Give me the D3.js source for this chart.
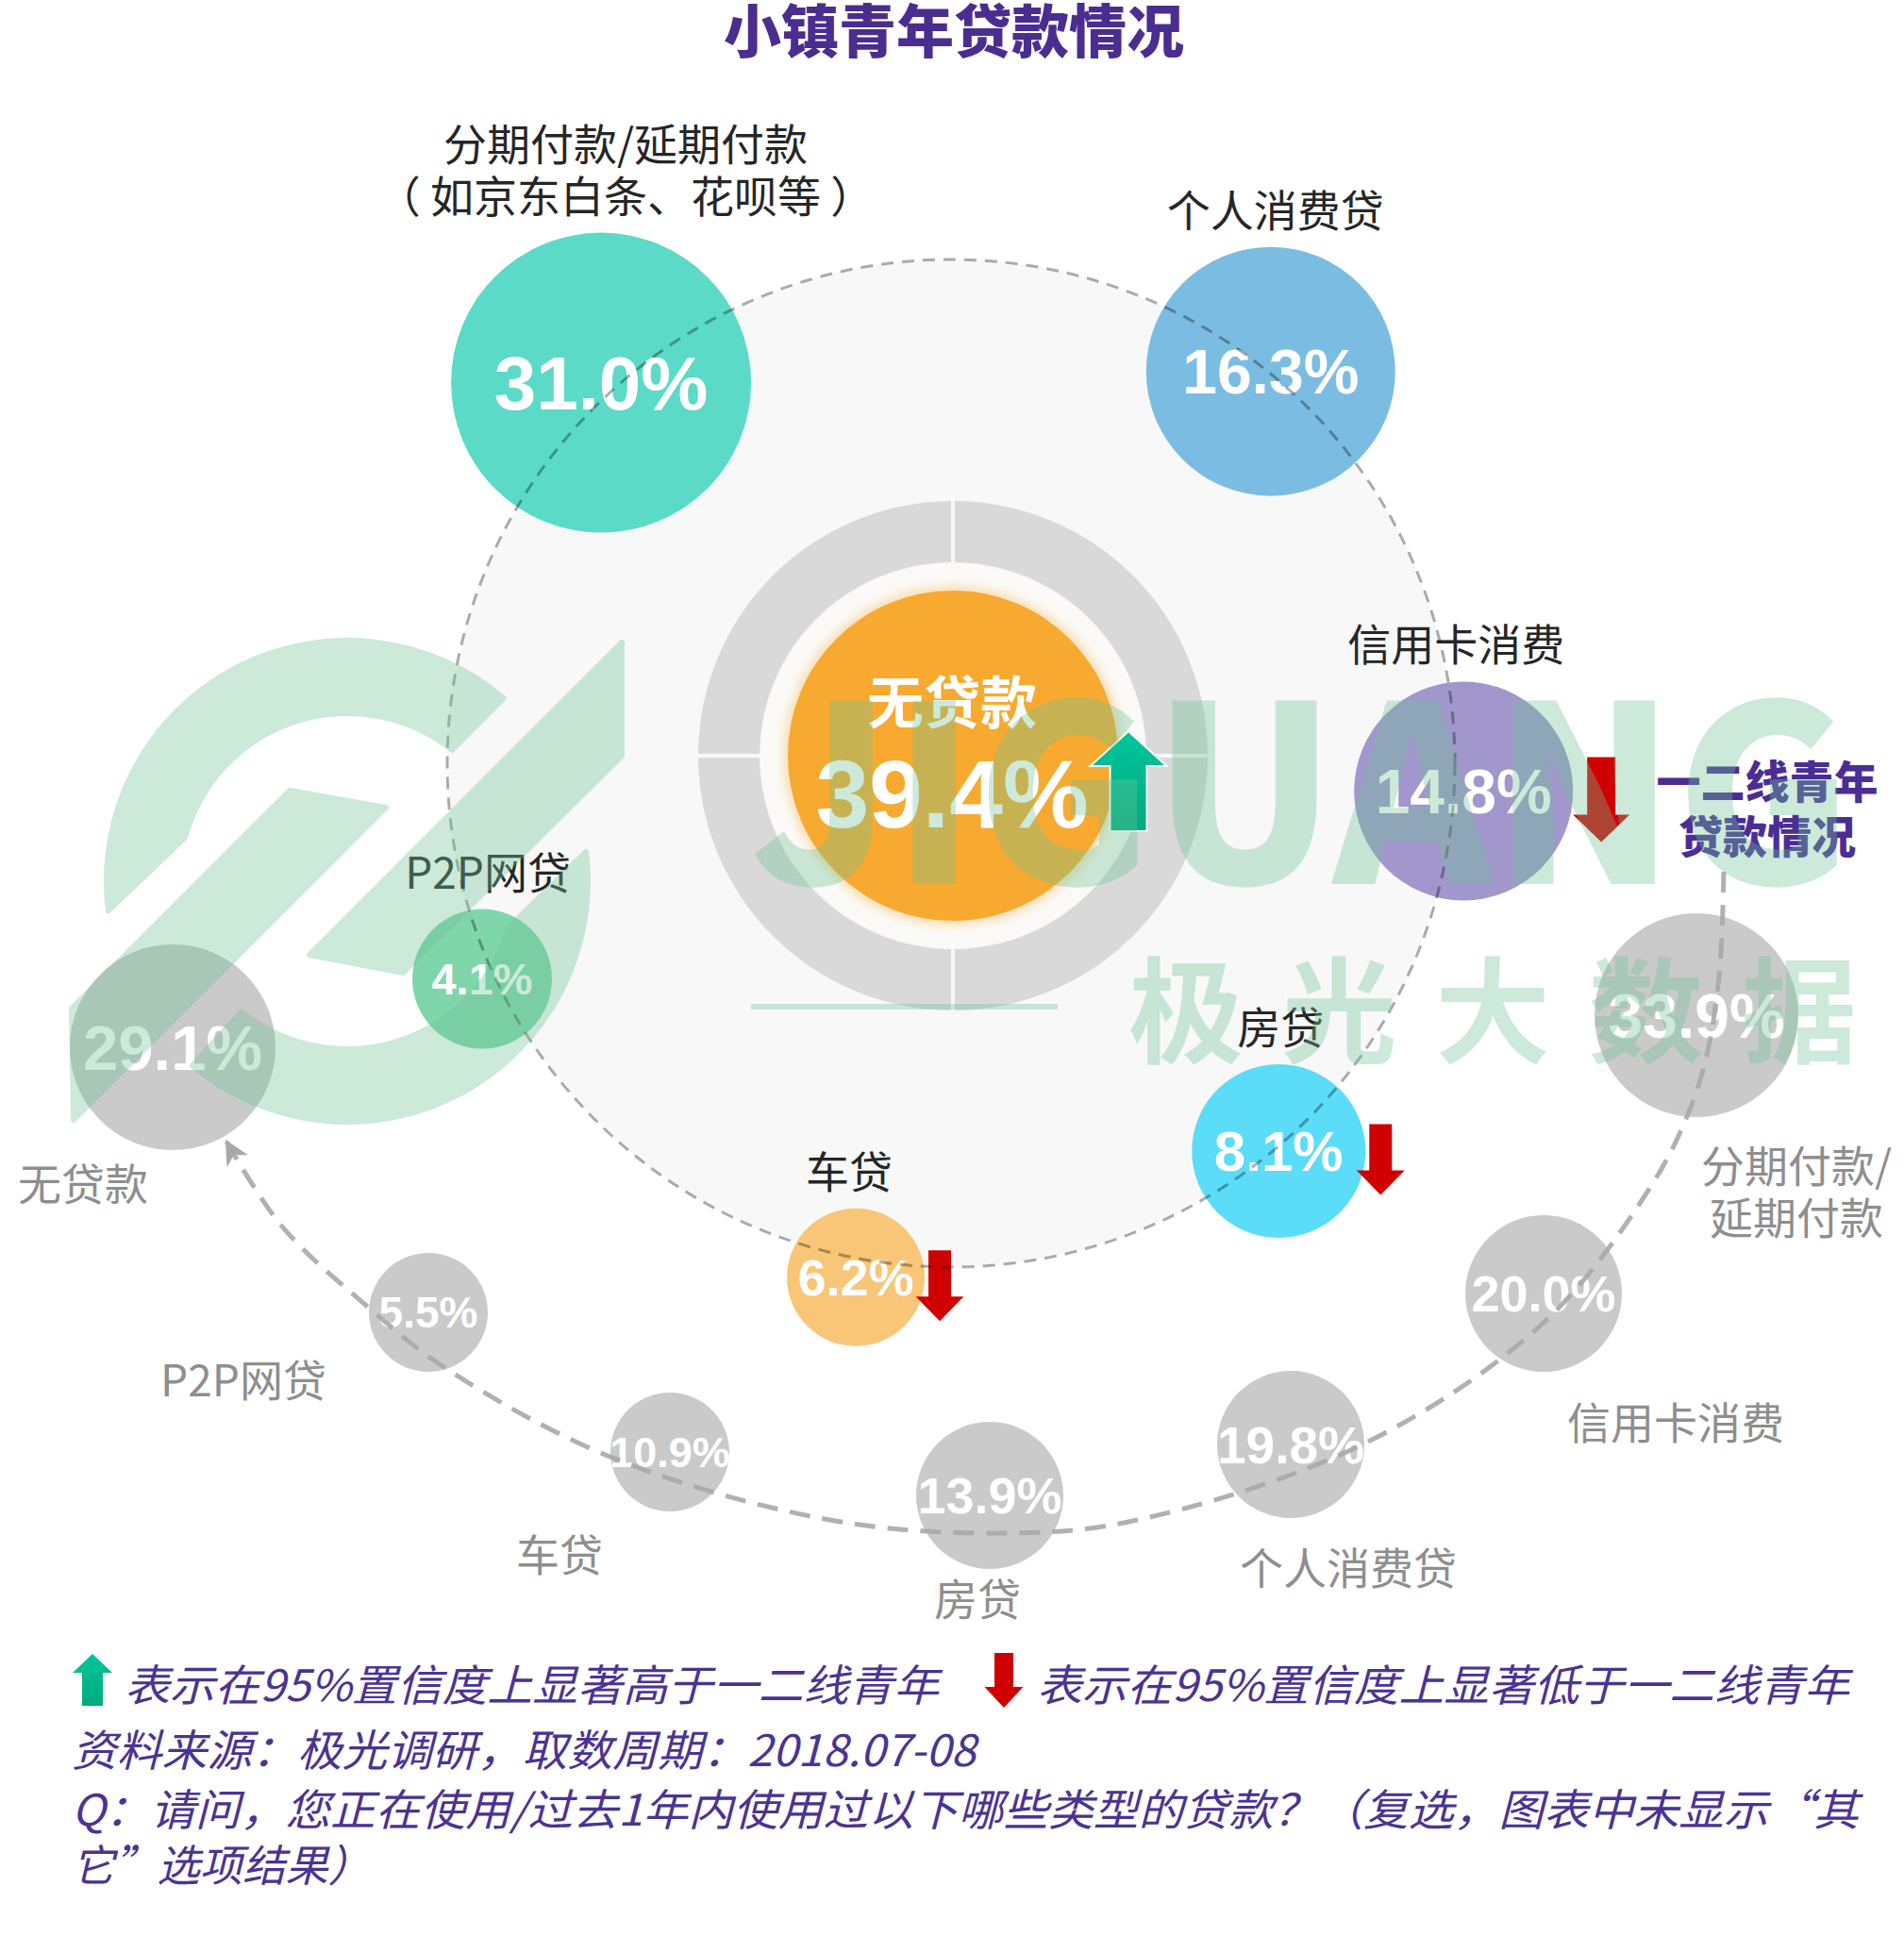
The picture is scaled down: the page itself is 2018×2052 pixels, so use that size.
<!DOCTYPE html>
<meta charset="utf-8">
<title>小镇青年贷款情况</title>
<style>

body {
  margin: 0;
  background: #fff;
}

svg {
  display: block;
}

text {
  font-family: "Noto Sans CJK SC", "Liberation Sans", sans-serif;
}

.num {
  font-family: "Liberation Sans", Arial, sans-serif;
  font-weight: bold;
  fill: #fff;
  text-anchor: middle;
}

</style>
<body>
<script src="https://d3js.org/d3.v7.min.js"></script>
<script>

var w = 2018,
    h = 2052;

// 小镇青年
var townCats = ["分期付款", "个人消费贷", "信用卡消费", "房贷", "车贷", "P2P网贷"];
var townVals = [31.0, 16.3, 14.8, 8.1, 6.2, 4.1];
var townSig = [0, 0, -1, -1, -1, 0];
var townLabels = [["分期付款/延期付款", "（ 如京东白条、花呗等 ）"], ["个人消费贷"], ["信用卡消费"], ["房贷"], ["车贷"], ["P2P网贷"]];
var noLoanLabel = "无贷款",
    noLoanVal = 39.4,
    noLoanSig = 1;

// 一二线青年
var cityCats = ["无贷款", "P2P网贷", "车贷", "房贷", "个人消费贷", "信用卡消费", "分期付款"];
var cityVals = [29.1, 5.5, 10.9, 13.9, 19.8, 20.0, 33.9];
var cityLabels = [["无贷款"], ["P2P网贷"], ["车贷"], ["房贷"], ["个人消费贷"], ["信用卡消费"], ["分期付款/", "延期付款"]];

var notes = [
  "表示在95%置信度上显著高于一二线青年",
  "表示在95%置信度上显著低于一二线青年",
  "资料来源：极光调研，取数周期：2018.07-08",
  "Q：请问，您正在使用/过去1年内使用过以下哪些类型的贷款？（复选，图表中未显示“其",
  "它”选项结果）"
];

// layout
var orbit = {x: 1008, y: 809, r: 534},
    core = {x: 1010, y: 801};
var townAngle = [317.4, 39.2, 93.1, 139.8, 190.5, 245.3],
    townDist = [548, 536, 544, 538, 554, 547],
    townR = [159, 132, 116, 92, 73, 74],
    townFont = [80, 66, 66, 60, 54, 47],
    townDx = [26, 5, -8, 2, -7, 6],
    townColor = ["#5bdac8", "#7bbde2", "#a297cc", "#5bdcf9", "#f9c577", "#80d6ab"];
var cityPos = [[183, 1110], [454, 1391], [710, 1539], [1049, 1585], [1368, 1531], [1636, 1371], [1798, 1076]],
    cityR = [109, 63, 63, 78, 78, 83, 108],
    cityFont = [67, 46, 45, 54, 55, 54, 66],
    cityLabelPos = [[88, 1252], [258, 1460], [593, 1645], [1036, 1692], [1429, 1659], [1776, 1505], [1904, 1233]];
var track = [[240, 1210], [299, 1300], [392, 1387], [472, 1450], [644, 1543], [874, 1610], [1050, 1625],
    [1196, 1613], [1446, 1530], [1638, 1400], [1750, 1257], [1789, 1181], [1810, 1114], [1823, 1023], [1827, 920]];

var angleOf = d3.scaleOrdinal(townCats, townAngle),
    distOf = d3.scaleOrdinal(townCats, townDist),
    rTown = d3.scaleOrdinal(townCats, townR),
    rCity = d3.scaleOrdinal(cityCats, cityR),
    colorOf = d3.scaleOrdinal(townCats, townColor);

var svg = d3.select("body").append("svg")
    .attr("width", w)
    .attr("height", h);

var defs = svg.append("defs");

var grad = defs.append("linearGradient")
    .attr("id", "up")
    .attr("x1", 0).attr("y1", 0).attr("x2", 0).attr("y2", 1);
grad.append("stop").attr("offset", 0).attr("stop-color", "#00c69b");
grad.append("stop").attr("offset", 1).attr("stop-color", "#00a97c");

defs.append("filter")
    .attr("id", "glow")
    .attr("x", "-20%").attr("y", "-20%").attr("width", "140%").attr("height", "140%")
  .append("feGaussianBlur")
    .attr("stdDeviation", 4);

defs.append("marker")
    .attr("id", "head")
    .attr("viewBox", "0 -6 12 12")
    .attr("refX", 11)
    .attr("refY", 0)
    .attr("markerWidth", 26)
    .attr("markerHeight", 26)
    .attr("markerUnits", "userSpaceOnUse")
    .attr("orient", "auto-start-reverse")
  .append("path")
    .attr("d", "M0,-6L12,0L0,6L3.5,0Z")
    .attr("fill", "#a8a8a8");

function polar(cx, cy, r, deg) {
  var a = deg * Math.PI / 180;
  return [cx + r * Math.sin(a), cy - r * Math.cos(a)];
}

function arrow(cx, top, hgt, shaft, head, headH, up) {
  var p = d3.path();
  if (up) {
    p.moveTo(cx, top);
    p.lineTo(cx + head / 2, top + headH);
    p.lineTo(cx + shaft / 2, top + headH);
    p.lineTo(cx + shaft / 2, top + hgt);
    p.lineTo(cx - shaft / 2, top + hgt);
    p.lineTo(cx - shaft / 2, top + headH);
    p.lineTo(cx - head / 2, top + headH);
  } else {
    var b = top + hgt;
    p.moveTo(cx, b);
    p.lineTo(cx + head / 2, b - headH);
    p.lineTo(cx + shaft / 2, b - headH);
    p.lineTo(cx + shaft / 2, top);
    p.lineTo(cx - shaft / 2, top);
    p.lineTo(cx - shaft / 2, b - headH);
    p.lineTo(cx - head / 2, b - headH);
  }
  p.closePath();
  return p.toString();
}

// title
svg.append("text")
    .attr("x", 1011)
    .attr("y", 29)
    .attr("text-anchor", "middle")
    .attr("dominant-baseline", "central")
    .attr("font-size", 61)
    .attr("font-weight", 900)
    .attr("fill", "#4b2d90")
    .text("小镇青年贷款情况");

// orbit disc
svg.append("circle")
    .attr("cx", orbit.x).attr("cy", orbit.y).attr("r", orbit.r)
    .attr("fill", "#f8f8f8");

// centre ring
var quarters = d3.pie().sort(null).padAngle(4 / 339)([1, 1, 1, 1]);
svg.append("g")
    .attr("transform", "translate(" + core.x + "," + core.y + ")")
  .selectAll("path")
    .data(quarters)
  .enter().append("path")
    .attr("d", d3.arc().innerRadius(205).outerRadius(270))
    .attr("fill", "#d9d9d9");

svg.append("circle")
    .attr("cx", core.x).attr("cy", core.y).attr("r", 203)
    .attr("fill", "#fbfaf7");
svg.append("circle")
    .attr("cx", core.x).attr("cy", core.y).attr("r", 181)
    .attr("fill", "#f9e2bd")
    .attr("filter", "url(#glow)");
svg.append("circle")
    .attr("cx", core.x).attr("cy", core.y).attr("r", 175)
    .attr("fill", "#f8a930");

svg.append("text")
    .attr("x", core.x - 1)
    .attr("y", 740)
    .attr("text-anchor", "middle")
    .attr("dominant-baseline", "central")
    .attr("font-size", 60)
    .attr("font-weight", 700)
    .attr("fill", "#fff")
    .text(noLoanLabel);
svg.append("text")
    .attr("class", "num")
    .attr("x", core.x - 1)
    .attr("y", 840 + 0.358 * 102)
    .attr("font-size", 102)
    .text(noLoanVal.toFixed(1) + "%");
if (noLoanSig > 0) {
  svg.append("path")
      .attr("d", arrow(1196, 775, 106, 39, 81, 37, true))
      .attr("fill", "url(#up)")
      .attr("stroke", "#fff")
      .attr("stroke-width", 2);
}

// comparison track (一二线青年)
var trackLine = d3.line().curve(d3.curveCatmullRom.alpha(0.5));

var city = svg.append("g").selectAll("g")
    .data(cityCats)
  .enter().append("g");

city.append("circle")
    .attr("cx", function(d, i) { return cityPos[i][0]; })
    .attr("cy", function(d, i) { return cityPos[i][1]; })
    .attr("r", function(d) { return rCity(d); })
    .attr("fill", "#cacaca");

svg.append("path")
    .attr("d", trackLine(track))
    .attr("fill", "none")
    .attr("stroke", "#a8a8a8")
    .attr("stroke-opacity", 0.9)
    .attr("stroke-width", 5)
    .attr("stroke-dasharray", "22 13")
    .attr("marker-start", "url(#head)");

city.append("text")
    .attr("class", "num")
    .attr("x", function(d, i) { return cityPos[i][0]; })
    .attr("y", function(d, i) { return cityPos[i][1] + 0.358 * cityFont[i]; })
    .attr("font-size", function(d, i) { return cityFont[i]; })
    .text(function(d, i) { return cityVals[i].toFixed(1) + "%"; });

city.each(function(d, i) {
  var g = d3.select(this);
  cityLabels[i].forEach(function(line, j) {
    g.append("text")
        .attr("x", cityLabelPos[i][0])
        .attr("y", cityLabelPos[i][1] + j * 55)
        .attr("text-anchor", "middle")
        .attr("dominant-baseline", "central")
        .attr("font-size", 46)
        .attr("fill", "#8e8e8e")
        .text(line);
  });
});

// town bubbles
var townPts = townCats.map(function(c) {
  return polar(orbit.x, orbit.y, distOf(c), angleOf(c));
});

var town = svg.append("g").selectAll("g")
    .data(townCats)
  .enter().append("g");

town.append("circle")
    .attr("cx", function(d, i) { return townPts[i][0]; })
    .attr("cy", function(d, i) { return townPts[i][1]; })
    .attr("r", function(d) { return rTown(d); })
    .attr("fill", function(d) { return colorOf(d); });

// orbit dashes over the bubbles
svg.append("circle")
    .attr("cx", orbit.x).attr("cy", orbit.y).attr("r", orbit.r)
    .attr("fill", "none")
    .attr("stroke", "#000")
    .attr("stroke-opacity", 0.32)
    .attr("stroke-width", 3)
    .attr("stroke-dasharray", "13 9");

town.append("text")
    .attr("class", "num")
    .attr("x", function(d, i) { return townPts[i][0]; })
    .attr("y", function(d, i) { return townPts[i][1] + 0.358 * townFont[i]; })
    .attr("font-size", function(d, i) { return townFont[i]; })
    .text(function(d, i) { return townVals[i].toFixed(1) + "%"; });

town.each(function(d, i) {
  var g = d3.select(this),
      r = rTown(d),
      lines = townLabels[i],
      base = townPts[i][1] - r - 42;
  lines.forEach(function(line, j) {
    g.append("text")
        .attr("x", townPts[i][0] + townDx[i])
        .attr("y", base - (lines.length - 1 - j) * 55)
        .attr("text-anchor", "middle")
        .attr("dominant-baseline", "central")
        .attr("font-size", 46)
        .attr("fill", "#262626")
        .style("white-space", "pre")
        .text(line);
  });
  if (townSig[i] < 0) {
    var big = r > 100,
        hh = big ? 90 : 75;
    g.append("path")
        .attr("d", arrow(townPts[i][0] + r + (big ? 30 : 16), townPts[i][1] + 9 - hh / 2, hh,
            big ? 30 : 24, big ? 60 : 51, big ? 29 : 26, false))
        .attr("fill", "#d10000");
  }
});

svg.append("text")
    .attr("x", 1873)
    .attr("y", 825)
    .attr("text-anchor", "middle")
    .attr("dominant-baseline", "central")
    .attr("font-size", 47)
    .attr("font-weight", 900)
    .attr("fill", "#4b2d96")
    .text("一二线青年");
svg.append("text")
    .attr("x", 1873)
    .attr("y", 883)
    .attr("text-anchor", "middle")
    .attr("dominant-baseline", "central")
    .attr("font-size", 47)
    .attr("font-weight", 900)
    .attr("fill", "#4b2d96")
    .text("贷款情况");

// notes
svg.append("path")
    .attr("d", arrow(98, 1753, 55, 22, 42, 20, true))
    .attr("fill", "url(#up)");
svg.append("path")
    .attr("d", arrow(1064, 1752, 58, 20, 41, 22, false))
    .attr("fill", "#d10000");

var notePos = [[132, 1783, 863], [1099, 1783, 861], [76, 1852, 958], [76, 1915, 1894], [76, 1974, 317]];
svg.append("g").selectAll("text")
    .data(notes)
  .enter().append("text")
    .attr("x", function(d, i) { return notePos[i][0]; })
    .attr("y", function(d, i) { return notePos[i][1]; })
    .attr("textLength", function(d, i) { return notePos[i][2]; })
    .attr("lengthAdjust", "spacingAndGlyphs")
    .attr("dominant-baseline", "central")
    .attr("font-size", 46)
    .attr("font-style", "italic")
    .attr("fill", "#4a3394")
    .text(function(d) { return d; });

// watermark
var mark = svg.append("g")
    .attr("opacity", 0.35)
    .attr("fill", "#6ec396")
    .attr("stroke", "#6ec396")
    .attr("stroke-width", 6)
    .attr("stroke-linejoin", "round");

function ringPiece(cx, cy, R, r, o0, o1, i0, i1) {
  var p0 = polar(cx, cy, R, o0), p1 = polar(cx, cy, R, o1),
      q1 = polar(cx, cy, r, i1), q0 = polar(cx, cy, r, i0);
  return "M" + p0 + "A" + R + "," + R + " 0 " + (o1 - o0 > 180 ? 1 : 0) + " 1 " + p1 +
      "L" + q1 + "A" + r + "," + r + " 0 " + (i1 - i0 > 180 ? 1 : 0) + " 0 " + q0 + "Z";
}

mark.append("path").attr("d", ringPiece(368, 934, 255, 178, 263, 400.5, 285, 398.6));
mark.append("path").attr("d", ringPiece(368, 934, 255, 178, 83, 220, 106, 219));
mark.append("path").attr("d", "M76,1069L307,838L409,856L78,1187Z");
mark.append("path").attr("d", "M328,1012L659,681L659,801L427,1031Z");

mark.append("text")
    .attr("x", 796)
    .attr("y", 937)
    .attr("textLength", 1167)
    .attr("lengthAdjust", "spacingAndGlyphs")
    .attr("stroke", "none")
    .attr("font-family", "Lato, 'DejaVu Sans', sans-serif")
    .attr("font-weight", 900)
    .attr("font-size", 261)
    .text("JIGUANG");

mark.append("rect")
    .attr("x", 796).attr("y", 1064).attr("width", 325).attr("height", 6)
    .attr("stroke", "none");

mark.append("text")
    .attr("x", 1196)
    .attr("y", 1063)
    .attr("dominant-baseline", "central")
    .attr("stroke", "none")
    .attr("font-size", 122)
    .attr("font-weight", 700)
    .attr("letter-spacing", 40.5)
    .text("极光大数据");

</script>
